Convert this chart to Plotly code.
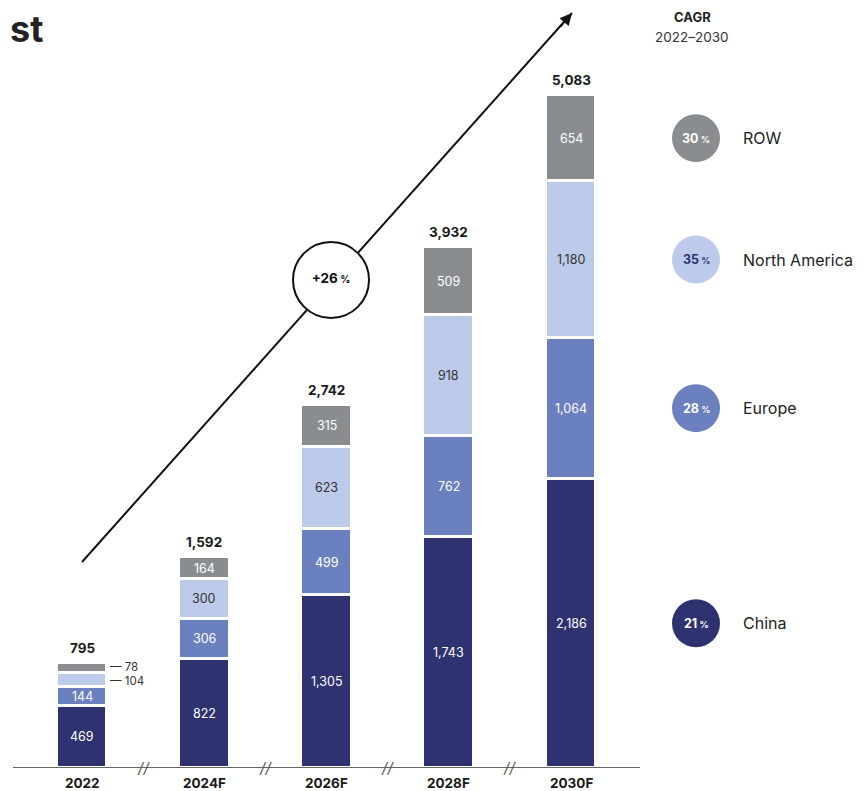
import plotly.graph_objects as go

years = ["2022", "2024F", "2026F", "2028F", "2030F"]
china = [469, 822, 1305, 1743, 2186]
europe = [144, 306, 499, 762, 1064]
north_america = [104, 300, 623, 918, 1180]
row = [78, 164, 315, 509, 654]
totals = [795, 1592, 2742, 3932, 5083]

regions = ["China", "Europe", "North America", "ROW"]
cagr = [21, 28, 35, 30]
overall_cagr = 26

colors = {"China": "#2f3270", "Europe": "#6a80bf", "North America": "#bccbe9", "ROW": "#8a8d90"}
text_colors = {"China": "white", "Europe": "white", "North America": "#333333", "ROW": "white"}
series = {"China": china, "Europe": europe, "North America": north_america, "ROW": row}

FONT = "Inter, Open Sans, sans-serif"
OFF = 8                      # page body margin
W, H = 866 - OFF, 791 - OFF
ML, MR, MT, MB = 0, 0, 0, 23
plot_h = H - MT - MB         # covers page y 8..768
plot_w = W - ML - MR         # covers page x 8..866
PX_PER_X = 122.25
X0 = -(82 - OFF) / PX_PER_X
X1 = X0 + plot_w / PX_PER_X
Y0, Y1 = 0, 5740

def px_x(px):
    return X0 + (px - OFF - ML) / plot_w * (X1 - X0)

def px_y(py):
    return Y0 + (768 - py) / plot_h * (Y1 - Y0)

def paper_x(px):
    return (px - OFF - ML) / plot_w

def paper_y(py):
    return 1 - (py - OFF - MT) / plot_h

xs = list(range(len(years)))
BAR_W = 0.417

fig = go.Figure()
for r in regions:
    fig.add_trace(go.Bar(
        x=xs, y=series[r], name=r, width=BAR_W,
        marker=dict(color=colors[r], line=dict(color="white", width=3)),
        hoverinfo="skip", showlegend=False,
    ))

annotations = []
for i in xs:
    base = 0
    for r in regions:
        v = series[r][i]
        mid = base + v / 2
        if i == 0 and r in ("North America", "ROW"):
            annotations.append(dict(x=i + BAR_W / 2, y=mid, text="— " + f"{v:,}", xanchor="left",
                                    yanchor="middle", xshift=1, yshift=(1 if r == "ROW" else -1),
                                    showarrow=False, height=14,
                                    font=dict(family=FONT, size=11.5, color="#333333")))
        else:
            annotations.append(dict(x=i, y=mid, text=f"{v:,}", xanchor="center", yanchor="middle",
                                    showarrow=False,
                                    font=dict(family=FONT, size=12.5, color=text_colors[r])))
        base += v
    annotations.append(dict(x=i, y=totals[i], text=f"<b>{totals[i]:,}</b>", xanchor="center",
                            yanchor="bottom", yshift=5, showarrow=False,
                            font=dict(family=FONT, size=13.5, color="#1a1a1a")))
    annotations.append(dict(x=i, y=0, text=f"<b>{years[i]}</b>", xanchor="center", yanchor="top",
                            yshift=-5, showarrow=False,
                            font=dict(family=FONT, size=13.5, color="#1a1a1a")))
    if i < len(years) - 1:
        annotations.append(dict(x=i + 0.5, y=0, text="<i>//</i>", xanchor="center", yanchor="middle",
                                showarrow=False, yshift=1,
                                font=dict(family=FONT, size=15, color="#555555")))

# legend circles (placed at the middle of the last year's segments)
last = len(years) - 1
base = 0
leg_x = px_x(696)
lab_x = px_x(741)
leg_y = []
for r in regions:
    v = series[r][last]
    leg_y.append(base + v / 2)
    base += v
fig.add_trace(go.Scatter(
    x=[leg_x] * len(regions), y=leg_y, mode="markers",
    marker=dict(size=48, color=[colors[r] for r in regions], line=dict(width=0)),
    hoverinfo="skip", showlegend=False,
))
for r, c, y in zip(regions, cagr, leg_y):
    col = "#2f3270" if r == "North America" else "white"
    annotations.append(dict(x=leg_x, y=y, text=f"<b>{c}<span style='font-size:9px'> %</span></b>",
                            xanchor="center", yanchor="middle", showarrow=False,
                            font=dict(family=FONT, size=12.5, color=col)))
    annotations.append(dict(x=lab_x, y=y, text=r, xanchor="left", yanchor="middle", showarrow=False,
                            font=dict(family=FONT, size=16, color="#222222")))

# growth arrow
ax0, ay0 = px_x(82), px_y(562)
ax1, ay1 = px_x(572), px_y(13)
shapes = [
    dict(type="line", xref="x", yref="y", x0=ax0, y0=ay0, x1=ax1, y1=ay1,
         line=dict(color="#111111", width=2), layer="below"),
    dict(type="line", xref="x", yref="y", x0=px_x(13), y0=0, x1=px_x(640), y1=0,
         line=dict(color="#666666", width=2), layer="above"),
]
annotations.append(dict(x=ax1, y=ay1, ax=-13, ay=15, showarrow=True, arrowhead=2,
                        arrowsize=1.2, arrowwidth=2, arrowcolor="#111111", text=""))
cx, cy = px_x(331), px_y(280)
fig.add_trace(go.Scatter(
    x=[cx], y=[cy], mode="markers+text",
    text=[f"<b>+{overall_cagr}<span style='font-size:10px'> %</span></b>"],
    textposition="middle center", textfont=dict(family=FONT, size=13.5, color="#111111"),
    marker=dict(size=76, color="white", line=dict(color="#111111", width=2)),
    hoverinfo="skip", showlegend=False,
))

# headers
annotations.append(dict(xref="paper", yref="paper", x=paper_x(692), y=paper_y(17), text="<b>CAGR</b>",
                        xanchor="center", yanchor="middle", showarrow=False,
                        font=dict(family=FONT, size=13, color="#222222")))
annotations.append(dict(xref="paper", yref="paper", x=paper_x(692), y=paper_y(37), text="2022–2030",
                        xanchor="center", yanchor="middle", showarrow=False,
                        font=dict(family=FONT, size=13.5, color="#333333")))
annotations.append(dict(xref="paper", yref="paper", x=0, y=paper_y(29), text="<b>st</b>",
                        xanchor="left", yanchor="middle", showarrow=False,
                        font=dict(family=FONT, size=36, color="#222222")))

fig.update_layout(
    width=W, height=H, margin=dict(l=ML, r=MR, t=MT, b=MB),
    barmode="stack", bargap=0,
    plot_bgcolor="white", paper_bgcolor="white",
    xaxis=dict(range=[X0, X1], visible=False, fixedrange=True),
    yaxis=dict(range=[Y0, Y1], visible=False, fixedrange=True),
    annotations=annotations, shapes=shapes,
)
fig.write_html("out.html")
